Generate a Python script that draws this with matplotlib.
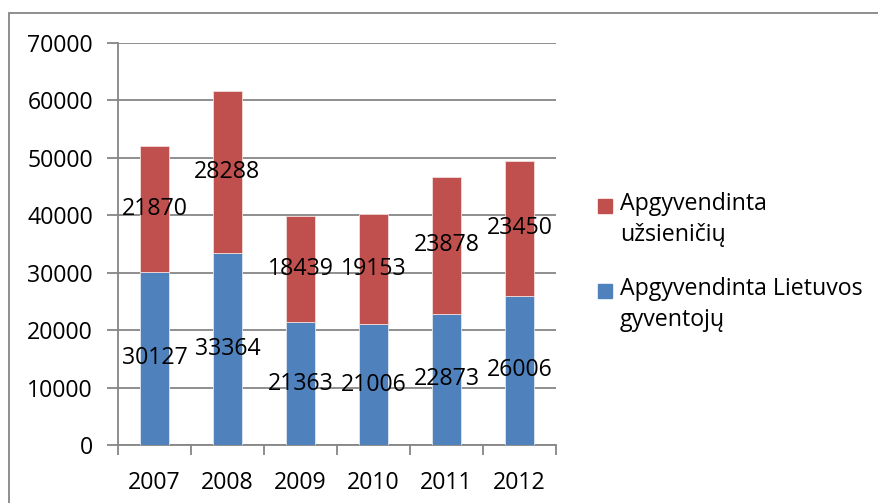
import numpy as np
import matplotlib.pyplot as plt
from matplotlib.patches import Rectangle

years = ["2007", "2008", "2009", "2010", "2011", "2012"]
lietuvos = [30127, 33364, 21363, 21006, 22873, 26006]
uzsieniciu = [21870, 28288, 18439, 19153, 23878, 23450]
legend_labels = ["Apgyvendinta\nužsieničių", "Apgyvendinta Lietuvos\ngyventojų"]

blue = "#4F81BD"
red = "#C0504D"
grid = "#868686"

plt.rcParams["font.family"] = ["Open Sans", "DejaVu Sans"]
fs = 16.7

W, H = 879, 503
fig = plt.figure(figsize=(W / 100, H / 100), dpi=100)
ax = fig.add_axes([118 / W, 1 - 445 / H, (556 - 118) / W, (445 - 43) / H])

x = np.arange(len(years))
bw = 0.4
ax.bar(x, lietuvos, bw, color=blue, edgecolor="#dfe7f1", linewidth=0.6, zorder=3)
ax.bar(x, uzsieniciu, bw, bottom=lietuvos, color=red, edgecolor="#f2dcdb", linewidth=0.6, zorder=3)

for i in range(len(years)):
    ax.text(x[i], lietuvos[i] / 2, str(lietuvos[i]), ha="center", va="center",
            fontsize=fs, zorder=5)
    ax.text(x[i], lietuvos[i] + uzsieniciu[i] / 2, str(uzsieniciu[i]), ha="center",
            va="center", fontsize=fs, zorder=5)

ax.set_xlim(-0.5, len(years) - 0.5)
ax.set_ylim(0, 70000)
ax.set_yticks(range(0, 70001, 10000))
ax.set_yticklabels([str(v) for v in range(0, 70001, 10000)], fontsize=fs)
ax.yaxis.grid(True, color=grid, linewidth=1.3, zorder=0)

ax.set_xticks(x)
ax.set_xticklabels(years, fontsize=fs)
ax.set_xticks(np.arange(-0.5, len(years), 1.0), minor=True)
ax.tick_params(axis="x", which="major", length=0, pad=19)
ax.tick_params(axis="x", which="minor", length=7, width=1.3, color=grid, direction="out")
ax.tick_params(axis="y", length=8, width=1.3, color=grid, pad=10)

for s in ["top", "right"]:
    ax.spines[s].set_visible(False)
for s in ["left", "bottom"]:
    ax.spines[s].set_color(grid)
    ax.spines[s].set_linewidth(1.3)

# outer chart frame (only partially visible)
fig.patches.append(Rectangle((8.5 / W, -0.1), 1.2, 1 - 13.5 / H + 0.1,
                             transform=fig.transFigure, fill=False,
                             edgecolor=grid, linewidth=1.3))

# legend
leg_items = [(red, legend_labels[0], 206), (blue, legend_labels[1], 291)]
for col, lab, yc in leg_items:
    fig.patches.append(Rectangle((598 / W, 1 - (yc + 7) / H), 14 / W, 14 / H,
                                 transform=fig.transFigure, color=col))
    fig.text(620 / W, 1 - (yc - 14) / H, lab, fontsize=fs, va="top", ha="left",
             linespacing=1.4)

fig.savefig("out.png", dpi=100)
